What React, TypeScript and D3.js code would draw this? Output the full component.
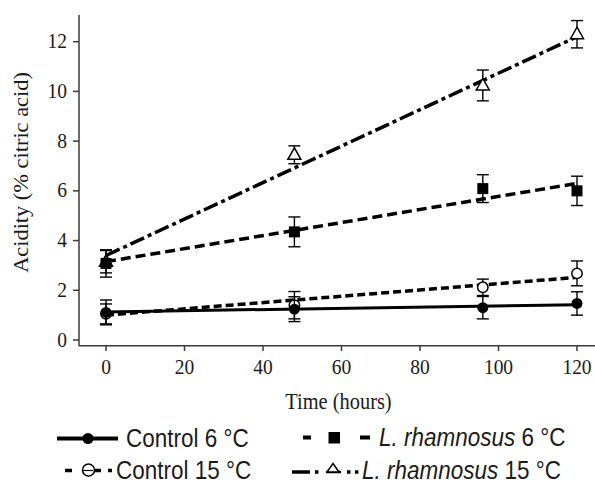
import React from "react";
import * as d3 from "d3";

const times = [0, 48, 96, 120];
const xTicks = [0, 20, 40, 60, 80, 100, 120];
const yTicks = [0, 2, 4, 6, 8, 10, 12];

const seriesNames = ["Control 6 °C", "Control 15 °C", "L. rhamnosus 6 °C", "L. rhamnosus 15 °C"];
const control6Mean = [1.11, 1.24, 1.3, 1.47];
const control6Err = [0.5, 0.5, 0.45, 0.47];
const control15Mean = [1.05, 1.4, 2.12, 2.68];
const control15Err = [0.4, 0.55, 0.33, 0.5];
const lr6Mean = [3.08, 4.35, 6.09, 6.0];
const lr6Err = [0.55, 0.6, 0.56, 0.59];
const lr15Mean = [3.15, 7.45, 10.24, 12.3];
const lr15Err = [0.45, 0.36, 0.62, 0.55];
// trend line values at 0 h and 120 h
const trendTimes = [0, 120];
const control6Trend = [1.13, 1.42];
const control15Trend = [1.0, 2.52];
const lr6Trend = [3.15, 6.3];
const lr15Trend = [3.4, 12.2];

const W = 595;
const H = 487;
const x = d3.scaleLinear().domain([0, 120]).range([106, 577]);
const y = d3.scaleLinear().domain([0, 12]).range([340, 41.7]);
const axisColor = "#3a3a3a";
const SY = 1.12;
const serif = "'Liberation Serif', 'Times New Roman', serif";
const sans = "'Liberation Sans', Arial, sans-serif";

type Kind = "fcircle" | "ocircle" | "square" | "triangle";

function Marker({ kind, cx, cy }: { kind: Kind; cx: number; cy: number }) {
  if (kind === "fcircle") return <circle cx={cx} cy={cy} r={5.5} fill="#000" />;
  if (kind === "ocircle")
    return <circle cx={cx} cy={cy} r={5.2} fill="#fff" stroke="#000" strokeWidth={1.5} />;
  if (kind === "square") return <rect x={cx - 5.5} y={cy - 5.5} width={11} height={11} fill="#000" />;
  return (
    <path
      d={`M${cx},${cy - 7}L${cx + 6.5},${cy + 4.5}L${cx - 6.5},${cy + 4.5}Z`}
      fill="#fff"
      stroke="#000"
      strokeWidth={1.5}
    />
  );
}

const series = [
  { name: seriesNames[0], mean: control6Mean, err: control6Err, trend: control6Trend, kind: "fcircle" as Kind, dash: "none", w: 3 },
  { name: seriesNames[1], mean: control15Mean, err: control15Err, trend: control15Trend, kind: "ocircle" as Kind, dash: "8,4", w: 3.5 },
  { name: seriesNames[2], mean: lr6Mean, err: lr6Err, trend: lr6Trend, kind: "square" as Kind, dash: "10,5", w: 3.5 },
  { name: seriesNames[3], mean: lr15Mean, err: lr15Err, trend: lr15Trend, kind: "triangle" as Kind, dash: "15,4,4,4", w: 3.5 },
];
// drawing order of markers: hollow ones beneath the filled ones
const markerOrder = [1, 3, 0, 2];

function SText(props: { x: number; y: number; anchor?: string; size: number; family: string; children: React.ReactNode }) {
  return (
    <text
      transform={`translate(${props.x},${props.y}) scale(1,${SY})`}
      textAnchor={props.anchor || "start"}
      fontSize={props.size}
      fontFamily={props.family}
      fill="#1a1a1a"
    >
      {props.children}
    </text>
  );
}

export default function App() {
  const line = d3
    .line<number>()
    .x((_, i) => x(trendTimes[i]))
    .y((d) => y(d));
  const cap = 6;
  return (
    <svg width={W} height={H} style={{ position: "absolute", left: 0, top: 0, background: "#fff" }}>
      <rect width={W} height={H} fill="#fff" />
      {/* axes */}
      <line x1={79} x2={79} y1={15} y2={346} stroke={axisColor} strokeWidth={1.5} />
      <line x1={79} x2={595} y1={345.7} y2={345.7} stroke={axisColor} strokeWidth={1.5} />
      {yTicks.map((t) => (
        <g key={"y" + t}>
          <line x1={73} x2={79} y1={y(t)} y2={y(t)} stroke={axisColor} strokeWidth={1.5} />
          <SText x={67} y={y(t) + 6.5} anchor="end" size={19.5} family={serif}>
            {t}
          </SText>
        </g>
      ))}
      {xTicks.map((t) => (
        <g key={"x" + t}>
          <line x1={x(t)} x2={x(t)} y1={345.7} y2={351} stroke={axisColor} strokeWidth={1.5} />
          <SText x={x(t)} y={374} anchor="middle" size={19.5} family={serif}>
            {t}
          </SText>
        </g>
      ))}
      <text
        transform={`translate(28,172.5) scale(1,${SY}) rotate(-90)`}
        textAnchor="middle"
        fontSize={20}
        fontFamily={serif}
        fill="#1a1a1a"
      >
        Acidity (% citric acid)
      </text>
      <SText x={338.5} y={409} anchor="middle" size={20.4} family={serif}>
        Time (hours)
      </SText>

      {/* trend lines */}
      {series.map((s) => (
        <path
          key={"l" + s.name}
          d={line(s.trend) || ""}
          fill="none"
          stroke="#000"
          strokeWidth={s.w}
          strokeDasharray={s.dash}
        />
      ))}
      {/* error bars and markers */}
      {markerOrder.map((k) => {
        const s = series[k];
        return (
          <g key={"m" + s.name}>
            {times.map((t, i) => {
              const cx = x(t);
              const top = y(s.mean[i] + s.err[i]);
              const bot = y(s.mean[i] - s.err[i]);
              return (
                <g key={t}>
                  <line x1={cx} x2={cx} y1={top} y2={bot} stroke="#000" strokeWidth={1.4} />
                  <line x1={cx - cap} x2={cx + cap} y1={top} y2={top} stroke="#000" strokeWidth={1.4} />
                  <line x1={cx - cap} x2={cx + cap} y1={bot} y2={bot} stroke="#000" strokeWidth={1.4} />
                  <Marker kind={s.kind} cx={cx} cy={y(s.mean[i])} />
                </g>
              );
            })}
          </g>
        );
      })}

      {/* legend */}
      <g>
        {/* Control 6 */}
        <line x1={57} x2={118} y1={438.5} y2={438.5} stroke="#000" strokeWidth={4} />
        <Marker kind="fcircle" cx={88} cy={438.5} />
        <SText x={126} y={447} size={22.5} family={sans}>
          {seriesNames[0]}
        </SText>
        {/* Control 15 */}
        <line x1={65} x2={72} y1={470.5} y2={470.5} stroke="#000" strokeWidth={3.5} />
        <line x1={92} x2={101} y1={470.5} y2={470.5} stroke="#000" strokeWidth={3.5} />
        <line x1={108} x2={112} y1={470.5} y2={470.5} stroke="#000" strokeWidth={3.5} />
        <circle cx={88.5} cy={470} r={6} fill="#fff" stroke="#000" strokeWidth={1.5} />
        <line x1={83} x2={93} y1={470.5} y2={470.5} stroke="#000" strokeWidth={1.2} />
        <SText x={116} y={479} size={22.5} family={sans}>
          {seriesNames[1]}
        </SText>
        {/* L. rhamnosus 6 */}
        <line x1={303} x2={311} y1={437.5} y2={437.5} stroke="#000" strokeWidth={4} />
        <line x1={360} x2={370} y1={437.5} y2={437.5} stroke="#000" strokeWidth={4} />
        <rect x={328.5} y={432} width={11.5} height={11.5} fill="#000" />
        <SText x={379} y={446} size={22.5} family={sans}>
          <tspan fontStyle="italic">L. rhamnosus</tspan> 6 °C
        </SText>
        {/* L. rhamnosus 15 */}
        <line x1={292} x2={310} y1={472} y2={472} stroke="#000" strokeWidth={3.5} />
        <line x1={315} x2={318.5} y1={472} y2={472} stroke="#000" strokeWidth={3.5} />
        <line x1={326} x2={341} y1={472} y2={472} stroke="#000" strokeWidth={2.5} />
        <path d="M333,463.5L339,472L327,472Z" fill="#fff" stroke="#000" strokeWidth={1.5} />
        <line x1={347} x2={350.5} y1={472} y2={472} stroke="#000" strokeWidth={3.5} />
        <line x1={355} x2={358.5} y1={472} y2={472} stroke="#000" strokeWidth={3.5} />
        <SText x={362} y={479} size={22.5} family={sans}>
          <tspan fontStyle="italic">L. rhamnosus</tspan> 15 °C
        </SText>
      </g>
    </svg>
  );
}
